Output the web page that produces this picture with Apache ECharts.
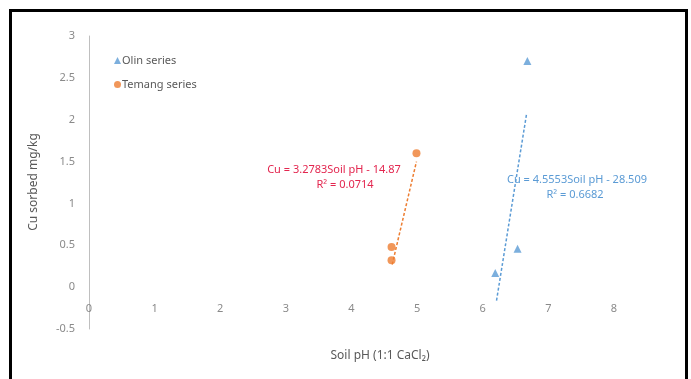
<!DOCTYPE html>
<html>
<head>
<meta charset="utf-8">
<script src="https://cdn.jsdelivr.net/npm/echarts@6/dist/echarts.min.js"></script>
<style>
html,body{margin:0;padding:0;background:#fff;}
#chart{width:691px;height:379px;}
</style>
</head>
<body>
<div id="chart"></div>
<script>
// Data
var olinSeriesName = 'Olin series';
var temangSeriesName = 'Temang series';
var olinPH = [6.19, 6.53, 6.68];
var olinCu = [0.17, 0.46, 2.70];
var temangPH = [4.61, 4.61, 4.99];
var temangCu = [0.48, 0.32, 1.60];
// trendline endpoints
var olinTrendPH = [6.21, 6.67];
var olinTrendCu = [-0.16, 2.08];
var temangTrendPH = [4.62, 4.99];
var temangTrendCu = [0.27, 1.50];
var xTicks = [0, 1, 2, 3, 4, 5, 6, 7, 8];
var yTicks = [-0.5, 0, 0.5, 1, 1.5, 2, 2.5, 3];
var olinEquation = 'Cu = 4.5553Soil pH - 28.509';
var olinR2 = 'R² = 0.6682';
var temangEquation = 'Cu = 3.2783Soil pH - 14.87';
var temangR2 = 'R² = 0.0714';

function pairs(xs, ys){ return xs.map(function(x,i){ return [x, ys[i]]; }); }

var FONT = 'Noto Sans';
var chart = echarts.init(document.getElementById('chart'));
chart.setOption({
  animation: false,
  backgroundColor: '#ffffff',
  grid: {left: 89, right: 77, top: 36, bottom: 50, containLabel: false},
  xAxis: {
    type: 'value', min: xTicks[0], max: xTicks[xTicks.length-1], interval: 1,
    position: 'bottom', offset: -42,
    axisLine: {show: false, onZero: false},
    axisTick: {show: false},
    splitLine: {show: false},
    axisLabel: {color: '#8a8a8a', fontSize: 11, fontFamily: FONT, margin: 16}
  },
  yAxis: {
    type: 'value', min: yTicks[0], max: yTicks[yTicks.length-1], interval: 0.5,
    axisLine: {show: true, onZero: false, lineStyle: {color: '#bfbfbf', width: 1}},
    axisTick: {show: false},
    splitLine: {show: false},
    axisLabel: {color: '#8a8a8a', fontSize: 11, fontFamily: FONT, margin: 14}
  },
  legend: {
    orient: 'vertical', left: 109, top: 50, itemWidth: 7, itemHeight: 7, itemGap: 13,
    textStyle: {color: '#595959', fontSize: 11, fontFamily: FONT, padding: [0,0,0,-4]},
    data: [
      {name: olinSeriesName, icon: 'triangle'},
      {name: temangSeriesName, icon: 'circle'}
    ]
  },
  series: [
    {
      name: olinSeriesName, type: 'scatter', symbol: 'triangle', symbolSize: 8,
      itemStyle: {color: '#5b9bd5'}, data: pairs(olinPH, olinCu), z: 3
    },
    {
      name: temangSeriesName, type: 'scatter', symbol: 'circle', symbolSize: 8,
      itemStyle: {color: '#ed7d31'}, data: pairs(temangPH, temangCu), z: 3
    },
    {
      name: 'olinTrend', type: 'line', symbol: 'none', silent: true,
      lineStyle: {color: '#5b9bd5', width: 1.5, type: [3, 2]},
      data: pairs(olinTrendPH, olinTrendCu), z: 2
    },
    {
      name: 'temangTrend', type: 'line', symbol: 'none', silent: true,
      lineStyle: {color: '#ed7d31', width: 1.5, type: [3, 2]},
      data: pairs(temangTrendPH, temangTrendCu), z: 2
    }
  ],
  graphic: [
    {type: 'rect', shape: {x: 10.5, y: 10.5, width: 676, height: 420},
     style: {fill: 'none', stroke: '#000', lineWidth: 3}, z: 100},
    {type: 'text', x: 34, y: 182, rotation: Math.PI/2,
     style: {text: 'Cu sorbed mg/kg', fill: '#595959', font: '12px "Noto Sans"', textAlign: 'center', textVerticalAlign: 'middle'}},
    {type: 'text', x: 380, y: 356,
     style: {text: 'Soil pH (1:1 CaCl₂)', fill: '#595959', font: '12px "Noto Sans"', textAlign: 'center', textVerticalAlign: 'middle'}},
    {type: 'text', x: 334, y: 170,
     style: {text: temangEquation, fill: '#e3264f', font: '11px "Noto Sans"', textAlign: 'center', textVerticalAlign: 'middle'}},
    {type: 'text', x: 345, y: 185,
     style: {text: temangR2, fill: '#e3264f', font: '11px "Noto Sans"', textAlign: 'center', textVerticalAlign: 'middle'}},
    {type: 'text', x: 577, y: 180,
     style: {text: olinEquation, fill: '#5b9bd5', font: '11px "Noto Sans"', textAlign: 'center', textVerticalAlign: 'middle'}},
    {type: 'text', x: 575, y: 195,
     style: {text: olinR2, fill: '#5b9bd5', font: '11px "Noto Sans"', textAlign: 'center', textVerticalAlign: 'middle'}}
  ]
});
</script>
</body>
</html>
